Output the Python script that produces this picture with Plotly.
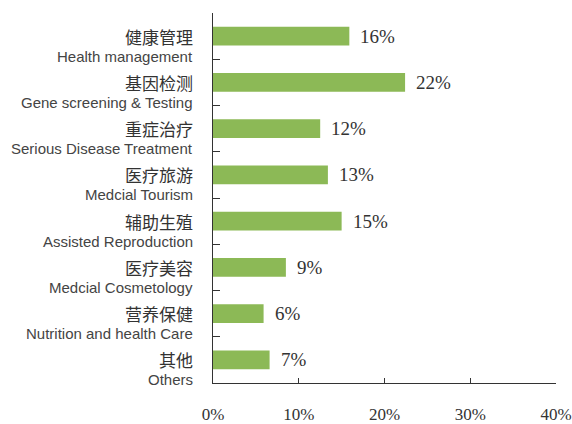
import plotly.graph_objects as go

cn_labels = ["健康管理", "基因检测", "重症治疗", "医疗旅游", "辅助生殖", "医疗美容", "营养保健", "其他"]
en_labels = ["Health management", "Gene screening & Testing", "Serious Disease Treatment",
             "Medcial Tourism", "Assisted Reproduction", "Medcial Cosmetology",
             "Nutrition and health Care", "Others"]
# bar lengths (percent)
values = [15.9, 22.4, 12.5, 13.4, 15.0, 8.5, 5.9, 6.6]
# value labels as printed on the chart
value_labels = ["16%", "22%", "12%", "13%", "15%", "9%", "6%", "7%"]
x_ticks = [0, 10, 20, 30, 40]
x_ticktext = ["0%", "10%", "20%", "30%", "40%"]

cats = list(range(len(cn_labels)))

fig = go.Figure()
fig.add_trace(go.Bar(
    x=values, y=cats, orientation="h",
    marker=dict(color="#8cb956", line=dict(width=0)),
    hoverinfo="skip",
))

annotations = []
for c, cn, en, v, lab in zip(cats, cn_labels, en_labels, values, value_labels):
    annotations.append(dict(x=0, xref="paper", y=c, yref="y", text=cn, showarrow=False,
                            xanchor="right", yanchor="middle", xshift=-18, yshift=0,
                            font=dict(family="Noto Sans CJK SC", size=17, color="#333333")))
    annotations.append(dict(x=0, xref="paper", y=c, yref="y", text=en, showarrow=False,
                            xanchor="right", yanchor="middle", xshift=-18, yshift=-20,
                            font=dict(family="Liberation Sans", size=15, color="#444444")))
    annotations.append(dict(x=v, xref="x", y=c, yref="y", text=lab, showarrow=False,
                            xanchor="left", yanchor="middle", xshift=9, yshift=0,
                            font=dict(family="Liberation Serif", size=19, color="#333333")))

fig.update_layout(
    width=572, height=424,
    margin=dict(l=213, r=16, t=13, b=41, autoexpand=False),
    paper_bgcolor="white", plot_bgcolor="white",
    showlegend=False,
    bargap=0.59,
    annotations=annotations,
    xaxis=dict(range=[0, 40], tickvals=x_ticks, ticktext=x_ticktext, automargin=False,
               showgrid=False, zeroline=False, showline=True, linecolor="#333333", linewidth=1,
               ticks="inside", ticklen=5, tickcolor="#333333",
               ticklabelstandoff=16,
               tickfont=dict(family="Liberation Serif", size=17, color="#333333")),
    yaxis=dict(type="category", categoryorder="array", categoryarray=cats, automargin=False,
               range=[len(cats) - 0.5, -0.5], autorange=False,
               showticklabels=False, tickvals=cats, tickson="boundaries",
               showgrid=False, zeroline=False, showline=True, linecolor="#333333", linewidth=1,
               ticks="inside", ticklen=7, tickcolor="#333333"),
)

fig.write_html("out.html", config={"displayModeBar": False},
               post_script="document.body.style.margin='0';document.body.style.overflow='hidden';")
